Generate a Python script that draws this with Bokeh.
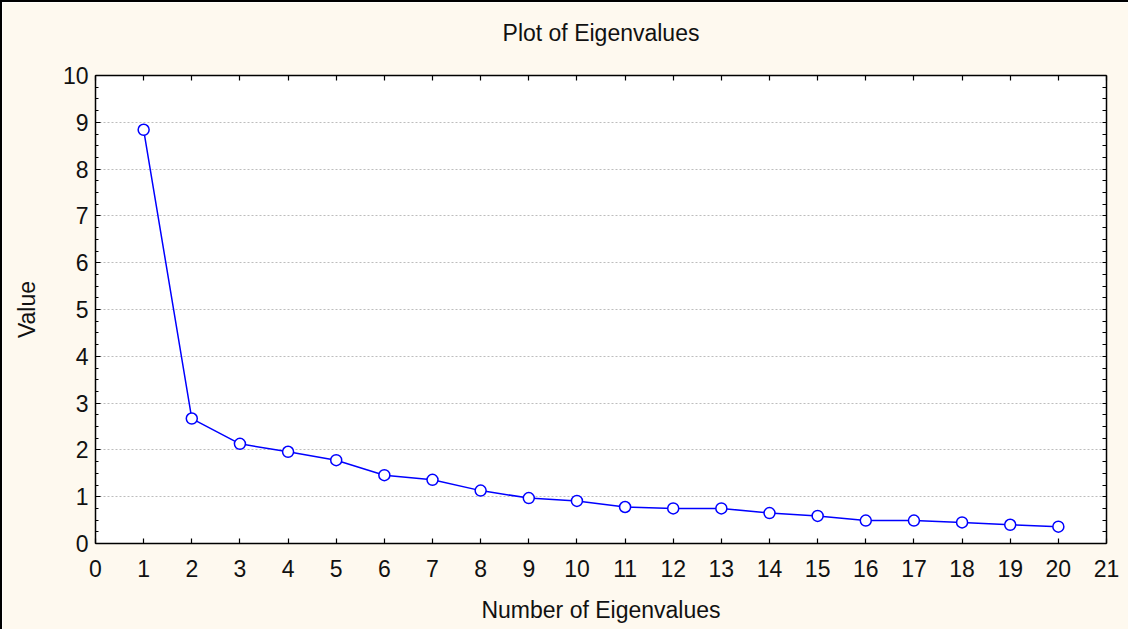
from bokeh.plotting import figure
from bokeh.models import LinearAxis, FixedTicker, Range1d
from bokeh.embed import file_html
from bokeh.resources import INLINE

# ---- data ----
components = list(range(1, 21))
eigenvalues = [8.84, 2.67, 2.13, 1.96, 1.78, 1.46, 1.36, 1.13, 0.97, 0.91,
               0.78, 0.75, 0.75, 0.65, 0.59, 0.49, 0.49, 0.45, 0.40, 0.36]
x_ticks = list(range(0, 22))
y_ticks = list(range(0, 11))
y_minor_ticks = [i / 4 for i in range(0, 41)]
title_text = "Plot of Eigenvalues"
x_label = "Number of Eigenvalues"
y_label = "Value"

FONT = "Liberation Sans"
BG = "#FEF9EF"
BLUE = "#0000FF"

p = figure(width=1128, height=629, output_backend="svg", toolbar_location=None,
           x_range=Range1d(0, 21), y_range=Range1d(0, 10),
           min_border_left=93, min_border_top=73, min_border_right=24,
           min_border_bottom=88)

p.styles = {"border-top": "2px solid black", "border-left": "2px solid black"}
p.background_fill_color = "white"
p.border_fill_color = BG
p.outline_line_color = None

# grids
p.xgrid.visible = False
p.ygrid.ticker = FixedTicker(ticks=y_ticks)
p.ygrid.grid_line_color = "#bdbdbd"
p.ygrid.grid_line_dash = "2 2"
p.ygrid.grid_line_width = 1

def style_axis(ax):
    ax.axis_line_color = "black"
    ax.axis_line_width = 1.5
    ax.major_tick_line_color = "black"
    ax.minor_tick_line_color = "black"
    ax.major_tick_in = 5
    ax.major_tick_out = 0
    ax.minor_tick_in = 3
    ax.minor_tick_out = 0
    ax.major_tick_line_width = 1.2
    ax.minor_tick_line_width = 1.2
    ax.major_label_text_font = FONT
    ax.major_label_text_color = "#111111"
    ax.major_label_text_font_size = "23px"
    ax.axis_label_text_font = FONT
    ax.axis_label_text_font_style = "normal"
    ax.axis_label_text_color = "#111111"
    ax.axis_label_text_font_size = "23px"

# bottom axis
xa = p.xaxis[0]
xa.ticker = FixedTicker(ticks=x_ticks)
style_axis(xa)
xa.minor_tick_in = 0
xa.major_label_standoff = 16
xa.axis_label = x_label
xa.axis_label_standoff = 17

# left axis
ya = p.yaxis[0]
ya.ticker = FixedTicker(ticks=y_ticks, minor_ticks=y_minor_ticks)
style_axis(ya)
ya.major_label_standoff = 7
ya.axis_label = y_label
ya.axis_label_standoff = 20

# top axis: tick marks only (minor ticks carry no labels); carries the title
ta = LinearAxis(ticker=FixedTicker(ticks=[], minor_ticks=x_ticks))
style_axis(ta)
ta.minor_tick_in = 5
ta.major_label_standoff = 0
ta.axis_label = title_text
ta.axis_label_standoff = 30
p.add_layout(ta, "above")

# right axis: tick marks only
ra = LinearAxis(ticker=FixedTicker(ticks=[], minor_ticks=y_minor_ticks))
style_axis(ra)
ra.minor_tick_in = 4
ra.major_label_standoff = 0
p.add_layout(ra, "right")

# data
p.line(components, eigenvalues, line_color=BLUE, line_width=1.5)
p.scatter(components, eigenvalues, marker="circle", size=11,
          fill_color="white", line_color=BLUE, line_width=1.5)

open("out.html", "w").write(file_html(p, INLINE))
